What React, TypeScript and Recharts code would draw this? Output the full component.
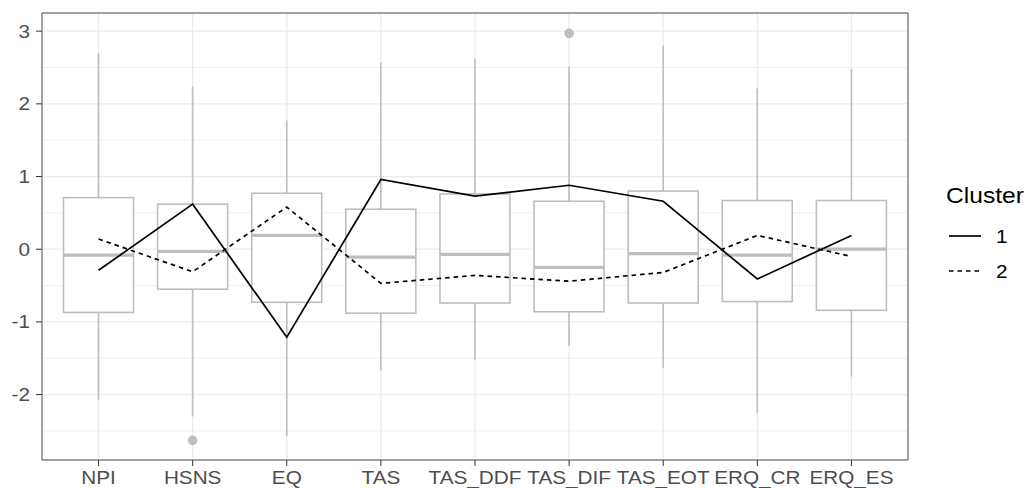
import React from 'react';
import { ComposedChart, Bar, Line, Scatter, XAxis, YAxis, CartesianGrid } from 'recharts';

// Scale names shown along the x axis
const categories = ['NPI', 'HSNS', 'EQ', 'TAS', 'TAS_DDF', 'TAS_DIF', 'TAS_EOT', 'ERQ_CR', 'ERQ_ES'];

// Box-plot summaries (standardised scores)
const whiskerLow = [-2.07, -2.3, -2.57, -1.67, -1.52, -1.33, -1.63, -2.25, -1.75];
const lowerQuartile = [-0.87, -0.55, -0.73, -0.88, -0.74, -0.86, -0.74, -0.72, -0.84];
const medians = [-0.08, -0.03, 0.19, -0.11, -0.07, -0.25, -0.06, -0.08, 0.0];
const upperQuartile = [0.71, 0.62, 0.77, 0.55, 0.76, 0.66, 0.8, 0.67, 0.67];
const whiskerHigh = [2.7, 2.24, 1.77, 2.57, 2.62, 2.51, 2.8, 2.21, 2.48];
const outliers: (number | null)[] = [null, -2.63, null, null, null, 2.97, null, null, null];

// Cluster profile means
const cluster1 = [-0.29, 0.62, -1.21, 0.96, 0.73, 0.88, 0.66, -0.41, 0.19];
const cluster2 = [0.14, -0.31, 0.58, -0.47, -0.36, -0.44, -0.32, 0.19, -0.1];

// Axis ticks
const majorTicks = [-2, -1, 0, 1, 2, 3];
const minorTicks = [-2.5, -1.5, -0.5, 0.5, 1.5, 2.5];
const yDomain: [number, number] = [-2.9, 3.25];

const legendTitle = 'Cluster';
const legendItems = [
  { label: '1', dash: undefined as string | undefined },
  { label: '2', dash: '4.5 4' },
];

const data = categories.map((name, i) => ({
  name,
  whisker: [whiskerLow[i], whiskerHigh[i]],
  box: [lowerQuartile[i], upperQuartile[i]],
  mid: [medians[i], medians[i]],
  outlier: outliers[i],
  c1: cluster1[i],
  c2: cluster2[i],
}));

const GREY = '#bebebe';
const FRAME = '#555555';
const FONT = '"Liberation Sans", Arial, Helvetica, sans-serif';
const TEXT_STRETCH = 1.12;
const xPad = { left: 9.5, right: 9.5 };

const XTick = (props: any) => {
  const { x, y, payload } = props;
  return (
    <text
      transform={`translate(${x},${y}) scale(${TEXT_STRETCH},1)`}
      textAnchor="middle"
      dy="0.71em"
      fontSize={18.5}
      fill="#4d4d4d"
      fontFamily={FONT}
    >
      {payload.value}
    </text>
  );
};

const YTick = (props: any) => {
  const { x, y, payload } = props;
  return (
    <text
      transform={`translate(${x},${y}) scale(${TEXT_STRETCH},1)`}
      textAnchor="end"
      dy="0.355em"
      fontSize={18.5}
      fill="#4d4d4d"
      fontFamily={FONT}
    >
      {payload.value}
    </text>
  );
};

const WhiskerShape = (props: any) => {
  const { x, y, width, height } = props;
  const cx = x + width / 2;
  return <line x1={cx} x2={cx} y1={y} y2={y + height} stroke={GREY} strokeWidth={1.6} />;
};

const BoxShape = (props: any) => {
  const { x, y, width, height } = props;
  const top = Math.min(y, y + height);
  return (
    <rect x={x} y={top} width={width} height={Math.abs(height)} fill="#ffffff" stroke={GREY} strokeWidth={1.6} />
  );
};

const MedianShape = (props: any) => {
  const { x, y, width } = props;
  return <line x1={x} x2={x + width} y1={y} y2={y} stroke={GREY} strokeWidth={3.2} />;
};

const OutlierShape = (props: any) => {
  const { cx, cy, payload } = props;
  if (payload == null || payload.outlier == null) return <g />;
  return <circle cx={cx} cy={cy} r={4.8} fill={GREY} />;
};

const ClusterLegend = () => (
  <svg width={104} height={120} style={{ position: 'absolute', left: 930, top: 170, fontFamily: FONT }}>
    <text transform={`translate(16,33) scale(${TEXT_STRETCH},1)`} fontSize={22} fill="#000">
      {legendTitle}
    </text>
    {legendItems.map((item, i) => (
      <g key={item.label}>
        <line x1={19} x2={51} y1={66 + i * 35} y2={66 + i * 35} stroke="#000" strokeWidth={1.7} strokeDasharray={item.dash} />
        <text transform={`translate(66,${72.5 + i * 35}) scale(${TEXT_STRETCH},1)`} fontSize={18.5} fill="#000">
          {item.label}
        </text>
      </g>
    ))}
  </svg>
);

export default function App() {
  return (
    <div style={{ position: 'absolute', left: 0, top: 0, width: 1034, height: 488, fontFamily: FONT, background: '#fff' }}>
      <ComposedChart width={1034} height={488} data={data} margin={{ top: 12, right: 125, bottom: 0, left: 0 }}>
        <CartesianGrid yAxisId="minor" vertical={false} stroke="#ebebeb" strokeWidth={0.8} />
        <CartesianGrid stroke="#ebebeb" strokeWidth={1.3} />
        <XAxis
          dataKey="name"
          padding={xPad}
          height={28}
          tickSize={6}
          tickMargin={5}
          tick={<XTick />}
          tickLine={{ stroke: '#333333' }}
          axisLine={{ stroke: FRAME }}
          interval={0}
        />
        <XAxis xAxisId="w" dataKey="name" padding={xPad} hide />
        <XAxis xAxisId="b" dataKey="name" padding={xPad} hide />
        <XAxis xAxisId="m" dataKey="name" padding={xPad} hide />
        <XAxis xAxisId="top" orientation="top" dataKey="name" height={1} tick={false} tickLine={false} axisLine={{ stroke: FRAME }} />
        <YAxis
          domain={yDomain}
          ticks={majorTicks}
          allowDataOverflow
          width={42}
          tickSize={6}
          tickMargin={6}
          tick={<YTick />}
          tickLine={{ stroke: '#333333' }}
          axisLine={{ stroke: FRAME }}
        />
        <YAxis yAxisId="minor" domain={yDomain} ticks={minorTicks} allowDataOverflow hide />
        <YAxis yAxisId="right" orientation="right" domain={yDomain} allowDataOverflow width={1} tick={false} tickLine={false} axisLine={{ stroke: FRAME }} />
        <Bar xAxisId="w" dataKey="whisker" barSize={4} shape={WhiskerShape} isAnimationActive={false} />
        <Bar xAxisId="b" dataKey="box" barSize={70} shape={BoxShape} isAnimationActive={false} />
        <Bar xAxisId="m" dataKey="mid" barSize={70} shape={MedianShape} isAnimationActive={false} />
        <Scatter dataKey="outlier" shape={OutlierShape} isAnimationActive={false} />
        <Line dataKey="c1" name="1" stroke="#000" strokeWidth={1.7} dot={false} activeDot={false} isAnimationActive={false} />
        <Line dataKey="c2" name="2" stroke="#000" strokeWidth={1.7} strokeDasharray="4.5 4" dot={false} activeDot={false} isAnimationActive={false} />
      </ComposedChart>
      <ClusterLegend />
    </div>
  );
}
